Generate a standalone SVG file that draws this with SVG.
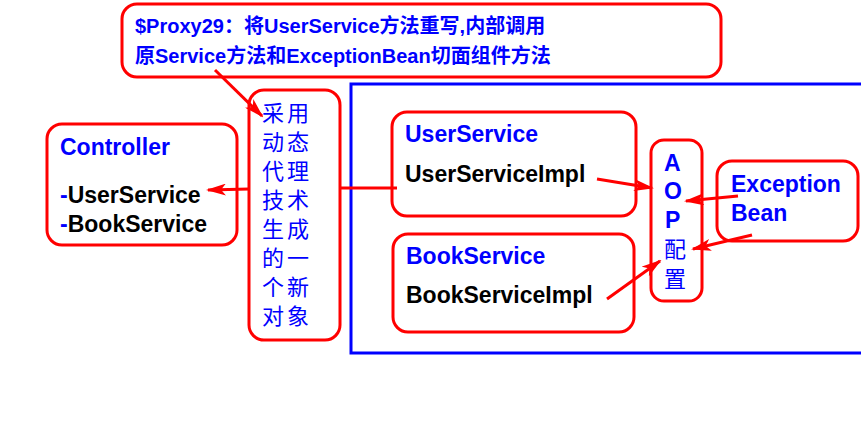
<svg xmlns="http://www.w3.org/2000/svg" width="861" height="422" viewBox="0 0 861 422">
<style>
.box{fill:#fff;stroke:#ff0000;stroke-width:3}
.frame{fill:none;stroke:#0000ff;stroke-width:3}
.t{font-family:"Liberation Sans","Noto Sans CJK SC",sans-serif;font-weight:bold;font-size:23px}
.b{fill:#0000ff}
.k{fill:#000}
.cj{font-family:"Noto Sans CJK SC",sans-serif;font-size:22px;fill:#0000ff;letter-spacing:3px}
.top{font-family:"Liberation Sans","Noto Sans CJK SC",sans-serif;font-weight:bold;font-size:20px;fill:#0000ff}
.c{stroke:#ff0000;stroke-width:3;fill:none}
.ca{stroke:#ff0000;stroke-width:3;fill:none;marker-end:url(#ah)}
</style>
<defs>
<marker id="ah" viewBox="0 0 20 12" refX="18" refY="6" markerWidth="20" markerHeight="12" markerUnits="userSpaceOnUse" orient="auto">
<path d="M0,0 L20,6 L0,12 L5,6 z" fill="#ff0000"/>
</marker>
</defs>
<rect width="861" height="422" fill="#fff"/>
<rect class="frame" x="351" y="84" width="520" height="269"/>
<g id="callout">
<rect class="box" x="122" y="4" width="599" height="73" rx="15"/>
<text class="top" x="135" y="33">$Proxy29：将UserService方法重写,内部调用</text>
<text class="top" x="135" y="63">原Service方法和ExceptionBean切面组件方法</text>
</g>
<g id="proxy">
<rect class="box" x="249" y="90" width="91" height="250" rx="15"/>
<text class="cj" x="262" y="121">采用</text>
<text class="cj" x="262" y="150">动态</text>
<text class="cj" x="262" y="179">代理</text>
<text class="cj" x="262" y="208">技术</text>
<text class="cj" x="262" y="237">生成</text>
<text class="cj" x="262" y="266">的一</text>
<text class="cj" x="262" y="295">个新</text>
<text class="cj" x="262" y="324">对象</text>
</g>
<g id="controller">
<rect class="box" x="47" y="124" width="190" height="121" rx="15"/>
<text class="t b" x="60" y="155">Controller</text>
<text class="t k" x="60" y="203"><tspan class="b">-</tspan>UserService</text>
<text class="t k" x="60" y="232"><tspan class="b">-</tspan>BookService</text>
</g>
<g id="userservice">
<rect class="box" x="392" y="112" width="244" height="104" rx="15"/>
<text class="t b" x="405" y="142">UserService</text>
<text class="t k" x="405" y="182">UserServiceImpl</text>
</g>
<g id="bookservice">
<rect class="box" x="393" y="234" width="241" height="98" rx="15"/>
<text class="t b" x="406" y="264">BookService</text>
<text class="t k" x="406" y="303">BookServiceImpl</text>
</g>
<g id="aop">
<rect class="box" x="651" y="140" width="51" height="161" rx="13"/>
<text class="t b" x="664" y="171">A</text>
<text class="t b" x="664" y="199">O</text>
<text class="t b" x="665" y="228">P</text>
<text class="cj" x="664" y="257">配</text>
<text class="cj" x="664" y="287">置</text>
</g>
<g id="exceptionbean">
<rect class="box" x="717" y="161" width="141" height="80" rx="15"/>
<text class="t b" x="731" y="192">Exception</text>
<text class="t b" x="731" y="221">Bean</text>
</g>
<g id="connectors">
<path class="ca" d="M215,70 L262,116"/>
<path class="ca" d="M249,189 L208,190"/>
<path class="c" d="M340,188 L397,188"/>
<path class="ca" d="M597,179 L652,188"/>
<path class="ca" d="M607,299 L660,261"/>
<path class="ca" d="M738,196 L686,201"/>
<path class="ca" d="M752,235 L693,249"/>
</g>
</svg>
